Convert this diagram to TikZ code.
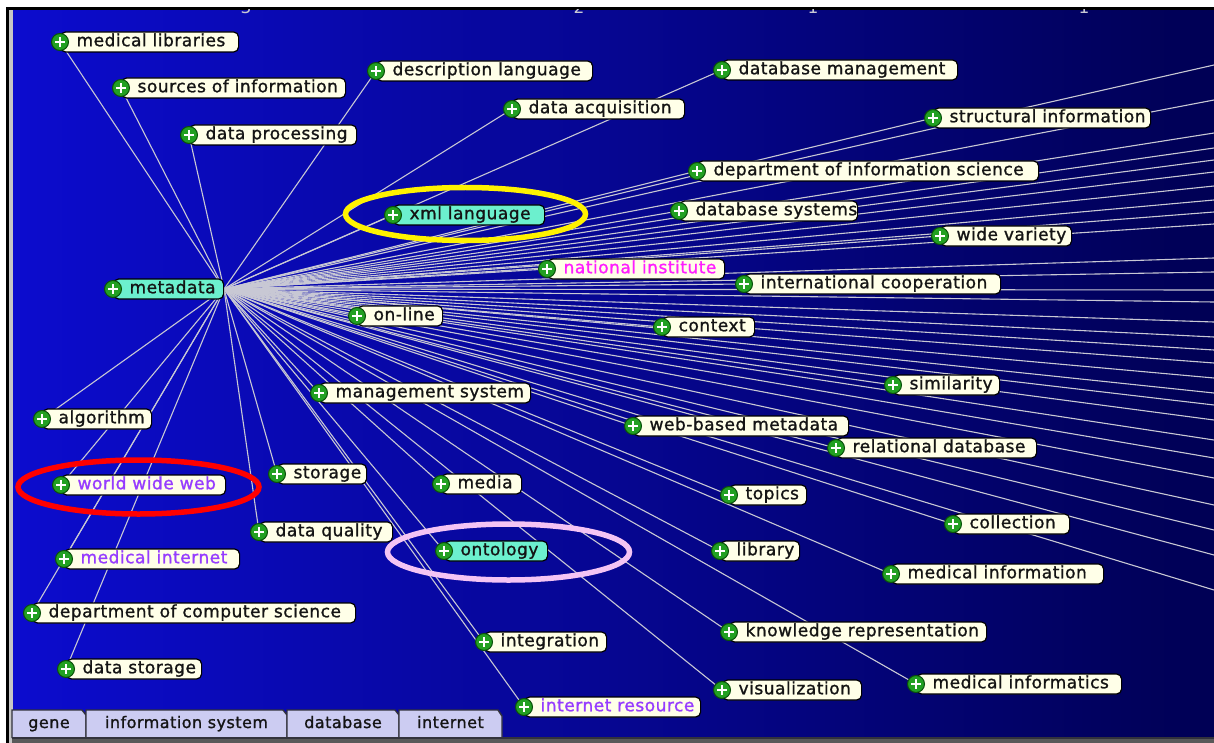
\documentclass[tikz,border=0pt]{standalone}
\usepackage{fontspec}
\setmainfont{DejaVu Sans}
\newfontfamily\kwfont[LetterSpace=3,FakeBold=1.2]{DejaVu Sans}
\usetikzlibrary{calc}
\pgfdeclarelayer{back}
\pgfdeclarelayer{links}
\pgfsetlayers{back,links,main}
\definecolor{pleft}{RGB}{12,12,206}
\definecolor{pmid}{RGB}{4,4,165}
\definecolor{pright}{RGB}{0,0,84}
\definecolor{cream}{RGB}{255,255,232}
\definecolor{aqua}{RGB}{108,240,206}
\definecolor{kwtext}{RGB}{20,20,20}
\definecolor{magtext}{RGB}{255,30,255}
\definecolor{purtext}{RGB}{150,60,255}
\definecolor{linkcol}{RGB}{200,200,212}
\definecolor{icongreen}{RGB}{34,160,34}
\definecolor{icondark}{RGB}{10,80,10}
\definecolor{tabfill}{RGB}{204,204,242}
\definecolor{tabline}{RGB}{50,50,60}
\definecolor{pinkring}{RGB}{244,196,244}
\tikzset{
  kwbox/.style={anchor=west, draw=black, line width=1.2pt, rounded corners=5pt,
    minimum height=20pt, inner xsep=0pt, inner ysep=0pt,
    text height=12.5pt, text depth=4pt, font=\kwfont\fontsize{17}{20}\selectfont},
  kwicon/.style={circle, draw=icondark, line width=1pt, fill=icongreen,
    minimum size=17pt, inner sep=0pt},
  kwplus/.style={white, line width=2.8pt},
  link/.style={draw=linkcol, line width=1.1pt},
  ring/.style={line width=5.5pt},
  tab/.style={fill=tabfill, draw=tabline, line width=1.4pt},
  tabtext/.style={font=\kwfont\fontsize{16}{18}\selectfont, text=kwtext, inner sep=0pt, anchor=base},
  digit/.style={font=\fontsize{17}{18}\selectfont, text=linkcol, anchor=base, inner sep=0pt}
}
% name, x, y, right x, text, fill, text colour
\newcommand\kwnode[7]{%
  \pgfmathsetmacro\kwW{#4-#2}%
  \node[kwbox, fill=#6, text=#7] (#1) at (#2,#3) {\makebox[\kwW pt][l]{\hspace{16pt}#5}};
  \node[kwicon] (#1-i) at (#1.west) {};
  \draw[kwplus] ([xshift=-4.8pt]#1-i.center) -- ([xshift=4.8pt]#1-i.center);
  \draw[kwplus] ([yshift=-4.8pt]#1-i.center) -- ([yshift=4.8pt]#1-i.center);
}
\newcommand\kw[7]{%
  \kwnode{#1}{#2}{#3}{#4}{#5}{#6}{#7}%
  \begin{pgfonlayer}{links}\draw[link] (hub) -- (#1-i.center);\end{pgfonlayer}%
}
\begin{document}
\begin{tikzpicture}[x=1pt,y=-1pt]
\useasboundingbox (0,0) rectangle (1214,743);
\begin{pgfonlayer}{back}
  \fill[white] (0,0) rectangle (1214,743);
  \shade[left color=pleft, middle color=pmid, right color=pright] (12,10) rectangle (1214,738);
  \fill[black] (6,7) rectangle (1214,10);
  \fill[black] (6,7) rectangle (9,743);
  \fill[gray!45] (9,10) rectangle (12.5,743);
  \fill[gray!70!black] (12,738) rectangle (1214,743);
  \begin{scope}
    \clip (12,10) rectangle (1214,738);
    \node[digit] (d3) at (246,14) {3};
    \node[digit] (d2) at (579,14) {2};
    \node[digit] (d1) at (813,14) {1};
    \node[digit] (d0) at (1084,14) {1};
  \end{scope}
\end{pgfonlayer}

\coordinate (hub) at (224,289);

% right-edge ends of links to keywords outside the view
\begin{pgfonlayer}{links}
\foreach \yy [count=\i] in {65,100,133,148,160,172,186,200,212,224,258,272,290,302,322,337,350,363,378,393,405,420,440,458,478,505,530,555,590}{
  \coordinate (r\i) at (1214,\yy);
  \draw[link] (hub) -- (r\i);
}
\end{pgfonlayer}

\kwnode{metadata}{113}{289}{223}{metadata}{aqua}{kwtext}

\kw{medlib}{60}{42}{238}{medical libraries}{cream}{kwtext}
\kw{sources}{121}{88}{345}{sources of information}{cream}{kwtext}
\kw{dataproc}{189}{135}{356}{data processing}{cream}{kwtext}
\kw{desclang}{376}{71}{592}{description language}{cream}{kwtext}
\kw{dataacq}{512}{109}{684}{data acquisition}{cream}{kwtext}
\kw{dbman}{722}{70}{957}{database management}{cream}{kwtext}
\kw{structinfo}{933}{118}{1150}{structural information}{cream}{kwtext}
\kw{deptinfo}{697}{171}{1038}{department of information science}{cream}{kwtext}
\kw{dbsys}{679}{211}{857}{database systems}{cream}{kwtext}
\kw{xml}{393}{215}{544}{xml language}{aqua}{kwtext}
\kw{wide}{940}{236}{1071}{wide variety}{cream}{kwtext}
\kw{natinst}{547}{269}{724}{national institute}{cream}{magtext}
\kw{intcoop}{744}{284}{1000}{international cooperation}{cream}{kwtext}
\kw{online}{357}{316}{442}{on-line}{cream}{kwtext}
\kw{context}{662}{327}{754}{context}{cream}{kwtext}
\kw{similarity}{893}{385}{999}{similarity}{cream}{kwtext}
\kw{mansys}{319}{393}{530}{management system}{cream}{kwtext}
\kw{webmeta}{633}{426}{848}{web-based metadata}{cream}{kwtext}
\kw{reldb}{836}{448}{1036}{relational database}{cream}{kwtext}
\kw{algorithm}{42}{419}{151}{algorithm}{cream}{kwtext}
\kw{www}{61}{485}{225}{world wide web}{cream}{purtext}
\kw{storage}{277}{474}{366}{storage}{cream}{kwtext}
\kw{media}{441}{484}{521}{media}{cream}{kwtext}
\kw{topics}{729}{495}{806}{topics}{cream}{kwtext}
\kw{collection}{953}{524}{1069}{collection}{cream}{kwtext}
\kw{dataqual}{259}{532}{392}{data quality}{cream}{kwtext}
\kw{ontology}{444}{551}{547}{ontology}{aqua}{kwtext}
\kw{library}{720}{551}{799}{library}{cream}{kwtext}
\kw{medinfo}{891}{574}{1103}{medical information}{cream}{kwtext}
\kw{medinternet}{64}{559}{239}{medical internet}{cream}{purtext}
\kw{deptcs}{32}{613}{355}{department of computer science}{cream}{kwtext}
\kw{knowrep}{729}{632}{986}{knowledge representation}{cream}{kwtext}
\kw{integration}{484}{642}{606}{integration}{cream}{kwtext}
\kw{datastor}{66}{669}{201}{data storage}{cream}{kwtext}
\kw{visual}{722}{690}{861}{visualization}{cream}{kwtext}
\kw{medinfor}{916}{684}{1121}{medical informatics}{cream}{kwtext}
\kw{intres}{524}{707}{700}{internet resource}{cream}{purtext}

% highlight rings
\draw[ring, yellow] (465.5,214) ellipse [x radius=120, y radius=26.5];
\draw[ring, red] (138.5,487) ellipse [x radius=120.5, y radius=27];
\draw[ring, pinkring] (508.5,552) ellipse [x radius=121, y radius=28];

% tabs
\draw[tab] (12,738) -- (12,710) -- (82,710) -- (86,715) -- (86,738);
\draw[tab] (86,738) -- (86,710) -- (283,710) -- (287,715) -- (287,738);
\draw[tab] (287,738) -- (287,710) -- (395,710) -- (399,715) -- (399,738);
\draw[tab] (399,738) -- (399,710) -- (498,710) -- (502,716) -- (502,738);
\node[tabtext] (tgene) at (49,728) {gene};
\node[tabtext] (tinfo) at (186.5,728) {information system};
\node[tabtext] (tdb) at (343,728) {database};
\node[tabtext] (tnet) at (450.5,728) {internet};
\draw[tabline, line width=1.5pt] (12,738) -- (1214,738);
\end{tikzpicture}
\end{document}
